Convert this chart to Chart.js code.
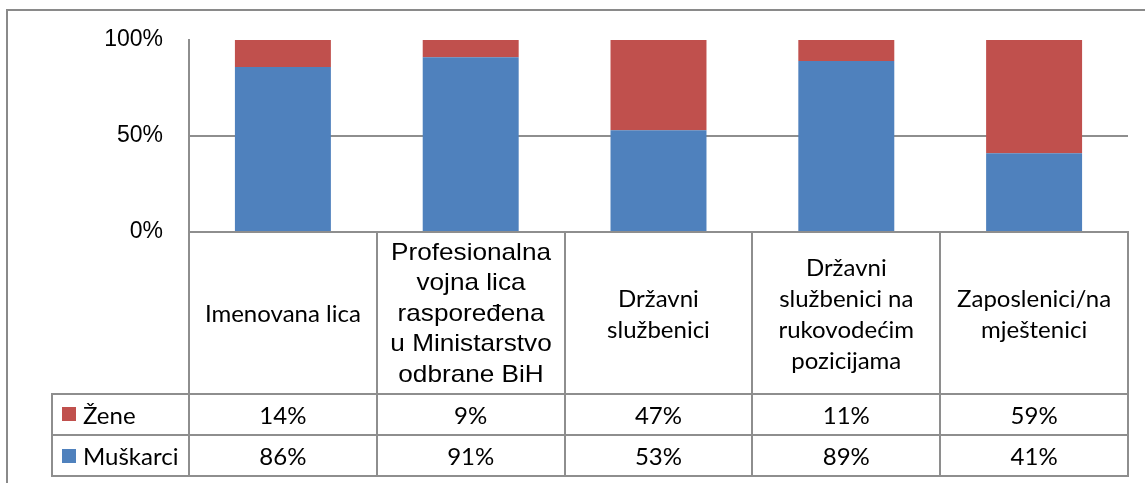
<!DOCTYPE html>
<html>
<head>
<meta charset="utf-8">
<script src="https://cdn.jsdelivr.net/npm/chart.js@4"></script>
<style>
  body { margin: 0; background: #fff; }
  #wrap { position: relative; width: 1145px; height: 483px; overflow: hidden; }
  #frame { position: absolute; left: 6px; top: 9px; width: 1200px; height: 600px; border: 2px solid #8a8a8a; box-sizing: border-box; }
  #chart { position: absolute; left: 0; top: 0; }
  .ln { position: absolute; background: #8e8e8e; }
  .cell { position: absolute; display: flex; align-items: center; justify-content: center; text-align: center;
          font-family: Lato, "Open Sans", sans-serif; font-size: 24px; line-height: 31px; color: #000; }
  .key { justify-content: flex-start; padding-left: 10px; box-sizing: border-box; }
  .swatch { display: inline-block; width: 14px; height: 14px; margin-right: 7px; }
  .arial { font-family: "Liberation Sans", Arial, sans-serif; font-size: 24px; line-height: 30.5px; display: inline-block; transform: scaleX(1.09); }
</style>
</head>
<body>
<div id="wrap">
  <div id="frame"></div>
  <canvas id="chart" width="1145" height="483"></canvas>
  <div id="table"></div>
</div>
<script>
// data
const categories = [
  ['Imenovana lica'],
  ['Profesionalna', 'vojna lica', 'raspoređena', 'u Ministarstvo', 'odbrane BiH'],
  ['Državni', 'službenici'],
  ['Državni', 'službenici na', 'rukovodećim', 'pozicijama'],
  ['Zaposlenici/na', 'mještenici']
];
const zene = [14, 9, 47, 11, 59];
const muskarci = [86, 91, 53, 89, 41];
const yTicks = [0, 50, 100];

const BLUE = '#4F81BD';
const RED = '#C0504D';
const LINE = '#8e8e8e';

const chart = new Chart(document.getElementById('chart'), {
  type: 'bar',
  data: {
    labels: categories,
    datasets: [
      { label: 'Muškarci', data: muskarci, backgroundColor: BLUE },
      { label: 'Žene', data: zene, backgroundColor: RED }
    ]
  },
  options: {
    responsive: false,
    animation: false,
    layout: { padding: { top: 40, right: 17, bottom: 251, left: 0 } },
    plugins: { legend: { display: false }, tooltip: { enabled: false } },
    datasets: { bar: { barPercentage: 0.511, categoryPercentage: 1 } },
    scales: {
      x: { stacked: true, display: false },
      y: {
        stacked: true, min: 0, max: 100,
        afterFit: s => { s.width = 189; },
        afterBuildTicks: s => { s.ticks = yTicks.map(v => ({ value: v })); },
        ticks: {
          callback: v => v + '%',
          font: { family: '"Liberation Sans", Arial', size: 23 },
          color: '#000',
          padding: 26
        },
        grid: {
          drawTicks: false,
          lineWidth: 2,
          color: c => (c.tick && c.tick.value === 50) ? LINE : 'rgba(0,0,0,0)'
        },
        border: { display: true, color: LINE, width: 2 }
      }
    }
  }
});

// data table under the plot, lined up with the x scale
const tbl = document.getElementById('table');
const area = chart.chartArea;
const xs = chart.scales.x;
const colW = (area.right - area.left) / categories.length;
const keyLeft = 52;
const rowTop = [area.bottom, 393.5, 435, 476];

function line(x, y, w, h) {
  const d = document.createElement('div');
  d.className = 'ln';
  d.style.left = x + 'px'; d.style.top = y + 'px';
  d.style.width = w + 'px'; d.style.height = h + 'px';
  tbl.appendChild(d);
}
function cell(x, y, w, h, html, extra) {
  const d = document.createElement('div');
  d.className = 'cell' + (extra ? ' ' + extra : '');
  d.style.left = x + 'px'; d.style.top = y + 'px';
  d.style.width = w + 'px'; d.style.height = h + 'px';
  d.innerHTML = html;
  tbl.appendChild(d);
  return d;
}

// horizontal rules
line(area.left - 1, rowTop[0] - 1, area.right - area.left + 2, 2);
for (let r = 1; r < rowTop.length; r++) line(keyLeft - 1, rowTop[r] - 1, area.right - keyLeft + 2, 2);
// vertical rules
line(keyLeft - 1, rowTop[1] - 1, 2, rowTop[3] - rowTop[1] + 2);
for (let i = 0; i <= categories.length; i++) {
  line(area.left + i * colW - 1, rowTop[0] - 1, 2, rowTop[3] - rowTop[0] + 2);
}

categories.forEach((lines, i) => {
  const cx = xs.getPixelForValue(i);
  const left = cx - colW / 2;
  let text = lines.join('<br>');
  // this header was typeset in Arial in the source table
  if (i === 1) text = '<span class="arial">' + text + '</span>';
  cell(left, rowTop[0], colW, rowTop[1] - rowTop[0], text);
  cell(left, rowTop[1], colW, rowTop[2] - rowTop[1], zene[i] + '%');
  cell(left, rowTop[2], colW, rowTop[3] - rowTop[2], muskarci[i] + '%');
});

// legend keys in the first column
const series = [
  { name: 'Žene', color: RED },
  { name: 'Muškarci', color: BLUE }
];
series.forEach((s, r) => {
  cell(keyLeft, rowTop[r + 1], area.left - keyLeft, rowTop[r + 2] - rowTop[r + 1],
       '<span class="swatch" style="background:' + s.color + '"></span>' + s.name, 'key');
});
</script>
</body>
</html>
